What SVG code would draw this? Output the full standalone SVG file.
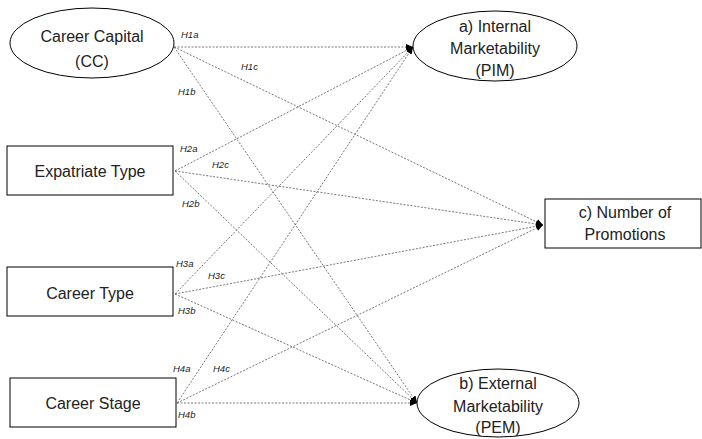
<svg xmlns="http://www.w3.org/2000/svg" width="702" height="439" viewBox="0 0 702 439">
<style>
.shape{fill:#fff;stroke:#000;stroke-width:1}
.t{font-family:"Liberation Sans",Arial,sans-serif;font-size:16px;fill:#222;text-anchor:middle}
.lbl{font-family:"Liberation Sans",Arial,sans-serif;font-size:9.5px;font-style:italic;fill:#222}
.c{fill:none;stroke:#555;stroke-width:0.8;stroke-dasharray:2 1.5}
</style>
<defs>
<marker id="ah" markerUnits="userSpaceOnUse" markerWidth="8" markerHeight="8" refX="7" refY="4" orient="auto">
<path d="M0,1 L7,4 L0,7 Z" fill="#000"/>
</marker>
</defs>
<g id="connectors">
<line class="c" x1="174" y1="47" x2="413" y2="47" marker-end="url(#ah)"/>
<line class="c" x1="174" y1="47" x2="543" y2="225" marker-end="url(#ah)"/>
<line class="c" x1="174" y1="47" x2="417" y2="403" marker-end="url(#ah)"/>
<line class="c" x1="175" y1="171" x2="413" y2="47" marker-end="url(#ah)"/>
<line class="c" x1="175" y1="171" x2="543" y2="225" marker-end="url(#ah)"/>
<line class="c" x1="175" y1="171" x2="417" y2="403" marker-end="url(#ah)"/>
<line class="c" x1="175" y1="294" x2="413" y2="47" marker-end="url(#ah)"/>
<line class="c" x1="175" y1="294" x2="543" y2="225" marker-end="url(#ah)"/>
<line class="c" x1="175" y1="294" x2="417" y2="403" marker-end="url(#ah)"/>
<line class="c" x1="177" y1="403" x2="413" y2="47" marker-end="url(#ah)"/>
<line class="c" x1="177" y1="403" x2="543" y2="225" marker-end="url(#ah)"/>
<line class="c" x1="177" y1="403" x2="417" y2="403" marker-end="url(#ah)"/>
</g>
<g id="labels">
<text class="lbl" x="181" y="38">H1a</text>
<text class="lbl" x="241" y="70">H1c</text>
<text class="lbl" x="178" y="95">H1b</text>
<text class="lbl" x="180" y="152">H2a</text>
<text class="lbl" x="212" y="168">H2c</text>
<text class="lbl" x="182" y="207">H2b</text>
<text class="lbl" x="176" y="267">H3a</text>
<text class="lbl" x="208" y="279">H3c</text>
<text class="lbl" x="178" y="314">H3b</text>
<text class="lbl" x="173" y="372">H4a</text>
<text class="lbl" x="213" y="372">H4c</text>
<text class="lbl" x="178" y="418">H4b</text>
</g>
<g id="cc">
<ellipse class="shape" cx="92" cy="43" rx="82" ry="35"/>
<text class="t" x="92" y="42">Career Capital</text>
<text class="t" x="92" y="67">(CC)</text>
</g>
<g id="expat">
<rect class="shape" x="7" y="146" width="166" height="49"/>
<text class="t" x="90" y="177">Expatriate Type</text>
</g>
<g id="ctype">
<rect class="shape" x="7" y="267" width="166" height="49"/>
<text class="t" x="90" y="299">Career Type</text>
</g>
<g id="cstage">
<rect class="shape" x="10" y="378" width="166" height="49"/>
<text class="t" x="93" y="409">Career Stage</text>
</g>
<g id="pim">
<ellipse class="shape" cx="495" cy="46" rx="82" ry="35"/>
<text class="t" x="495" y="32">a) Internal</text>
<text class="t" x="495" y="54">Marketability</text>
<text class="t" x="495" y="76">(PIM)</text>
</g>
<g id="prom">
<rect class="shape" x="545" y="199" width="156" height="49"/>
<text class="t" x="625" y="218">c) Number of</text>
<text class="t" x="625" y="240">Promotions</text>
</g>
<g id="pem">
<ellipse class="shape" cx="498" cy="403" rx="81" ry="34"/>
<text class="t" x="498" y="389">b) External</text>
<text class="t" x="498" y="412">Marketability</text>
<text class="t" x="498" y="433">(PEM)</text>
</g>
</svg>
